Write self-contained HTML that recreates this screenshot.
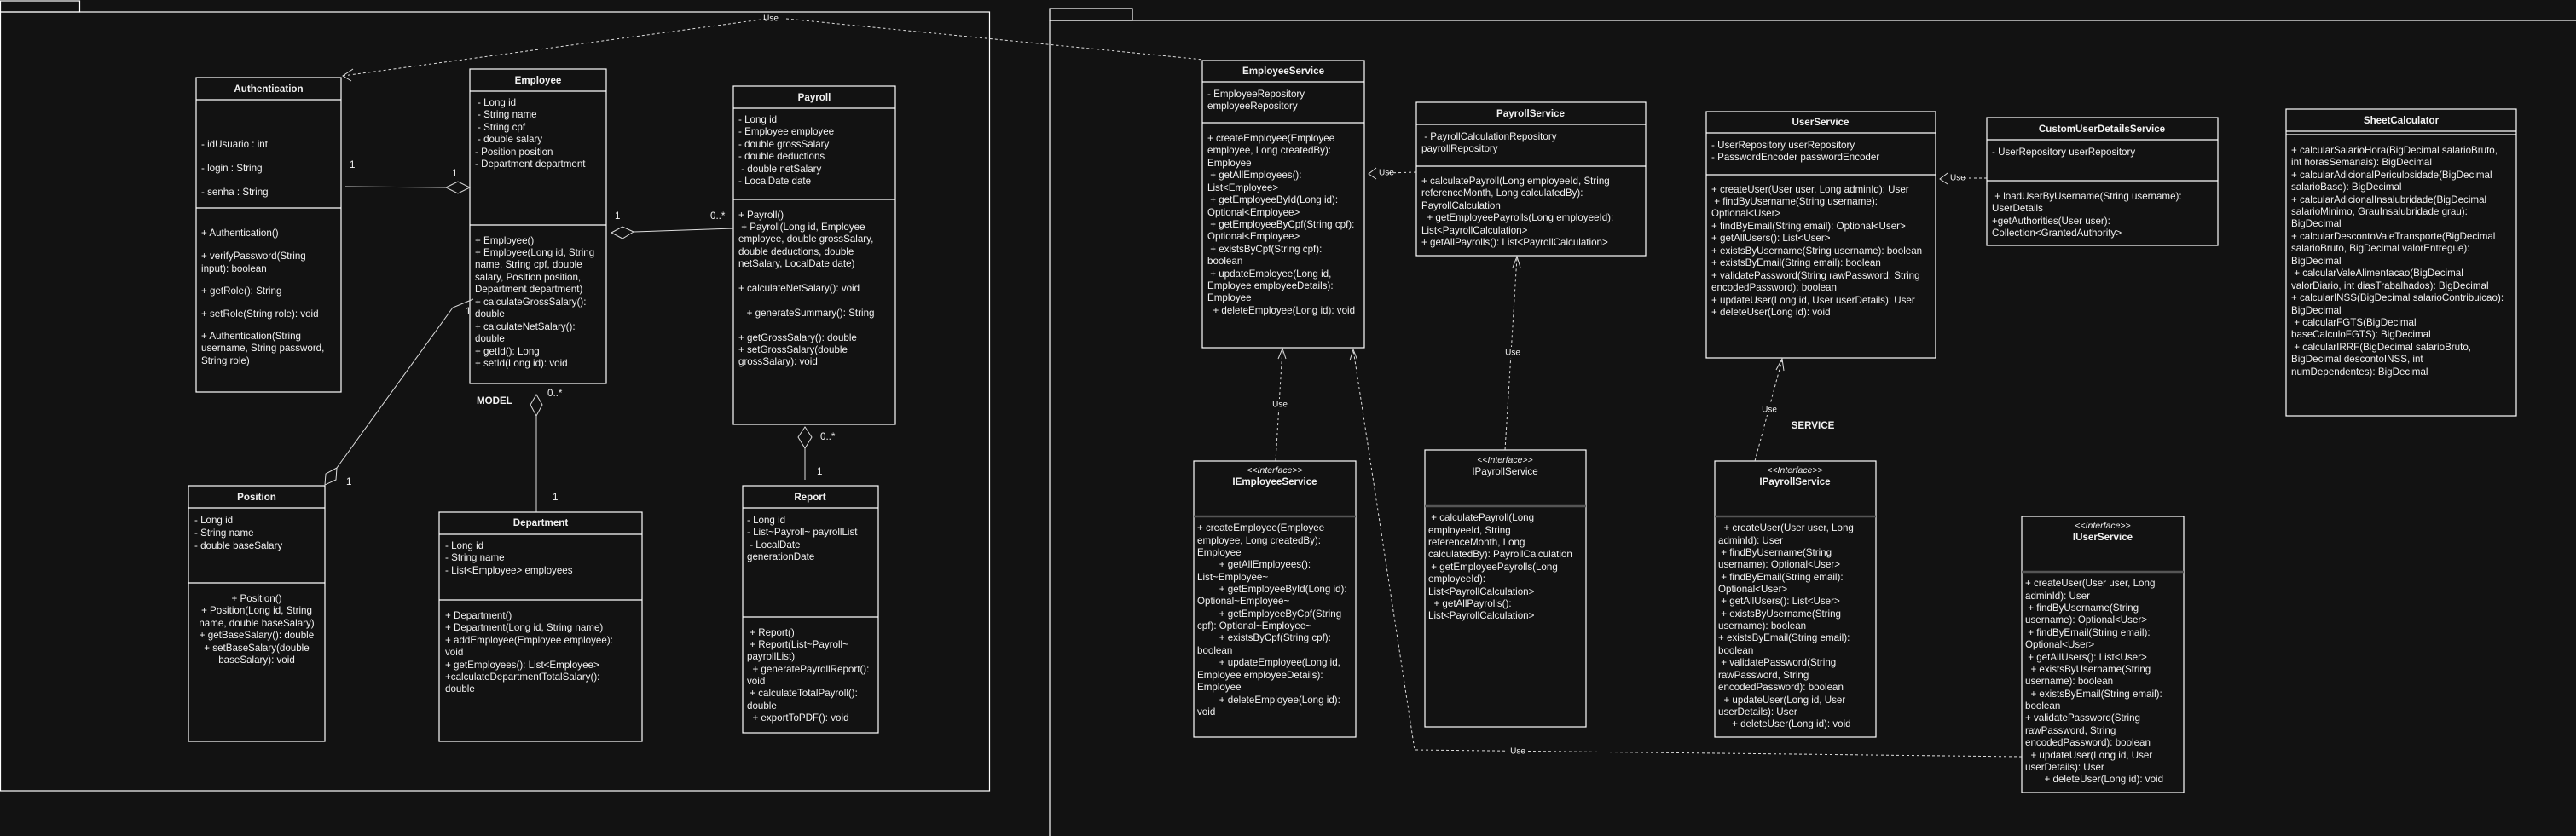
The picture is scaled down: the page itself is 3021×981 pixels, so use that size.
<!DOCTYPE html>
<html><head><meta charset="utf-8"><style>
html,body{margin:0;padding:0;background:#121212;}
svg{display:block;}
text{font-family:"Liberation Sans",Arial,sans-serif;font-size:11.6px;fill:#f2f2f2;dominant-baseline:middle;white-space:pre;}
.b{font-weight:bold;}
.c{text-anchor:middle;}
.i{font-style:italic;}
rect{fill:none;stroke:#fff;stroke-width:1.2;}
.s{stroke:#fff;stroke-width:1.2;}
.g{stroke:#555;stroke-width:2.5;}
.d{stroke:#ddd;stroke-width:1;stroke-dasharray:3 3;fill:none;}
.a{stroke:#ddd;stroke-width:1;fill:none;}
</style></head><body>
<svg width="3021" height="981" xmlns="http://www.w3.org/2000/svg" xml:space="preserve">
<rect x="0.5" y="1" width="93" height="13"/>
<rect x="0.5" y="14" width="1160" height="914"/>
<rect x="1231" y="10" width="97" height="14"/>
<rect x="1231" y="24" width="1800" height="970"/>

<polyline class="d" points="402,89 900,22"/>
<polyline class="d" points="922,22 1411,70"/>
<text x="904" y="22" class="c" style="font-size:10px">Use</text>
<polyline class="a" points="414,81 402,89 412,95"/>

<rect x="230" y="91" width="170" height="369"/>
<line class="s" x1="230" y1="117" x2="400" y2="117"/><line class="s" x1="230" y1="244" x2="400" y2="244"/>
<text x="315" y="105" class="b c">Authentication</text>
<text x="236" y="170">- idUsuario : int</text>
<text x="236" y="198">- login : String</text>
<text x="236" y="226">- senha : String</text>
<text x="236" y="274">+ Authentication()</text>
<text x="236" y="301">+ verifyPassword(String</text>
<text x="236" y="316">input): boolean</text>
<text x="236" y="342">+ getRole(): String</text>
<text x="236" y="369">+ setRole(String role): void</text>
<text x="236" y="395">+ Authentication(String</text>
<text x="236" y="409">username, String password,</text>
<text x="236" y="424">String role)</text>

<rect x="551" y="81" width="160" height="369"/>
<line class="s" x1="551" y1="107" x2="711" y2="107"/><line class="s" x1="551" y1="264" x2="711" y2="264"/>
<text x="631" y="95" class="b c">Employee</text>
<text x="560" y="121">- Long id</text>
<text x="560" y="135">- String name</text>
<text x="560" y="150">- String cpf</text>
<text x="560" y="164">- double salary</text>
<text x="557" y="179">- Position position</text>
<text x="557" y="193">- Department department</text>
<text x="557" y="283">+ Employee()</text>
<text x="557" y="297">+ Employee(Long id, String</text>
<text x="557" y="311">name, String cpf, double</text>
<text x="557" y="326">salary, Position position,</text>
<text x="557" y="340">Department department)</text>
<text x="557" y="355">+ calculateGrossSalary():</text>
<text x="557" y="369">double</text>
<text x="557" y="384">+ calculateNetSalary():</text>
<text x="557" y="398">double</text>
<text x="557" y="413">+ getId(): Long</text>
<text x="557" y="427">+ setId(Long id): void</text>

<rect x="860" y="101" width="190" height="397"/>
<line class="s" x1="860" y1="127" x2="1050" y2="127"/><line class="s" x1="860" y1="234" x2="1050" y2="234"/>
<text x="955" y="115" class="b c">Payroll</text>
<text x="866" y="141">- Long id</text>
<text x="866" y="155">- Employee employee</text>
<text x="866" y="170">- double grossSalary</text>
<text x="866" y="184">- double deductions</text>
<text x="866" y="199"> - double netSalary</text>
<text x="866" y="213">- LocalDate date</text>
<text x="866" y="253">+ Payroll()</text>
<text x="866" y="267"> + Payroll(Long id, Employee</text>
<text x="866" y="281">employee, double grossSalary,</text>
<text x="866" y="296">double deductions, double</text>
<text x="866" y="310">netSalary, LocalDate date)</text>
<text x="866" y="339">+ calculateNetSalary(): void</text>
<text x="866" y="368">   + generateSummary(): String</text>
<text x="866" y="397">+ getGrossSalary(): double</text>
<text x="866" y="411">+ setGrossSalary(double</text>
<text x="866" y="425">grossSalary): void</text>

<rect x="221" y="570" width="160" height="300"/>
<line class="s" x1="221" y1="596" x2="381" y2="596"/><line class="s" x1="221" y1="684" x2="381" y2="684"/>
<text x="301" y="584" class="b c">Position</text>
<text x="228" y="611">- Long id</text>
<text x="228" y="626">- String name</text>
<text x="228" y="641">- double baseSalary</text>
<text x="301" y="703" class="c">+ Position()</text>
<text x="301" y="717" class="c">+ Position(Long id, String</text>
<text x="301" y="732" class="c">name, double baseSalary)</text>
<text x="301" y="746" class="c">+ getBaseSalary(): double</text>
<text x="301" y="761" class="c">+ setBaseSalary(double</text>
<text x="301" y="775" class="c">baseSalary): void</text>

<rect x="515" y="601" width="238" height="269"/>
<line class="s" x1="515" y1="627" x2="753" y2="627"/><line class="s" x1="515" y1="704" x2="753" y2="704"/>
<text x="634" y="614" class="b c">Department</text>
<text x="522" y="641">- Long id</text>
<text x="522" y="655">- String name</text>
<text x="522" y="670">- List&lt;Employee&gt; employees</text>
<text x="522" y="723">+ Department()</text>
<text x="522" y="737">+ Department(Long id, String name)</text>
<text x="522" y="752">+ addEmployee(Employee employee):</text>
<text x="522" y="766">void</text>
<text x="522" y="781">+ getEmployees(): List&lt;Employee&gt;</text>
<text x="522" y="795">+calculateDepartmentTotalSalary():</text>
<text x="522" y="809">double</text>

<rect x="871" y="570" width="159" height="290"/>
<line class="s" x1="871" y1="596" x2="1030" y2="596"/><line class="s" x1="871" y1="724" x2="1030" y2="724"/>
<text x="950" y="584" class="b c">Report</text>
<text x="876" y="611">- Long id</text>
<text x="876" y="625">- List~Payroll~ payrollList</text>
<text x="876" y="640"> - LocalDate</text>
<text x="876" y="654">generationDate</text>
<text x="876" y="743"> + Report()</text>
<text x="876" y="757"> + Report(List~Payroll~</text>
<text x="876" y="771">payrollList)</text>
<text x="876" y="786">  + generatePayrollReport():</text>
<text x="876" y="800">void</text>
<text x="876" y="814"> + calculateTotalPayroll():</text>
<text x="876" y="829">double</text>
<text x="876" y="843">  + exportToPDF(): void</text>

<line class="a" x1="405" y1="219" x2="523" y2="220"/>
<polygon class="a" points="523,220 537,213 551,220 537,227"/>
<text x="410" y="194">1</text><text x="530" y="204">1</text>

<line class="a" x1="743" y1="272" x2="860" y2="268"/>
<polygon class="a" points="717,273 730,266 743,272 730,280"/>
<text x="721" y="254">1</text><text x="833" y="254">0..*</text>

<polyline class="a" points="555,351 531,361 395,549"/>
<polygon class="a" points="395,549 394,563 381,569 382,556"/>
<text x="546" y="366">1</text><text x="406" y="566">1</text>

<line class="a" x1="629" y1="601" x2="629" y2="488"/>
<polygon class="a" points="629,463 636,475 629,488 622,475"/>
<text x="642" y="462">0..*</text><text x="648" y="584">1</text>
<text x="559" y="471" class="b">MODEL</text>

<line class="a" x1="944" y1="526" x2="944" y2="563"/>
<polygon class="a" points="944,501 952,513 944,526 936,513"/>
<text x="962" y="513">0..*</text><text x="958" y="554">1</text>

<rect x="1410" y="71" width="190" height="337"/>
<line class="s" x1="1410" y1="96" x2="1600" y2="96"/><line class="s" x1="1410" y1="144" x2="1600" y2="144"/>
<text x="1505" y="84" class="b c">EmployeeService</text>
<text x="1416" y="111">- EmployeeRepository</text>
<text x="1416" y="125">employeeRepository</text>
<text x="1416" y="163">+ createEmployee(Employee</text>
<text x="1416" y="177">employee, Long createdBy):</text>
<text x="1416" y="192">Employee</text>
<text x="1416" y="206"> + getAllEmployees():</text>
<text x="1416" y="221">List&lt;Employee&gt;</text>
<text x="1416" y="235"> + getEmployeeById(Long id):</text>
<text x="1416" y="250">Optional&lt;Employee&gt;</text>
<text x="1416" y="264"> + getEmployeeByCpf(String cpf):</text>
<text x="1416" y="278">Optional&lt;Employee&gt;</text>
<text x="1416" y="293"> + existsByCpf(String cpf):</text>
<text x="1416" y="307">boolean</text>
<text x="1416" y="322"> + updateEmployee(Long id,</text>
<text x="1416" y="336">Employee employeeDetails):</text>
<text x="1416" y="350">Employee</text>
<text x="1416" y="365">  + deleteEmployee(Long id): void</text>

<rect x="1661" y="120" width="269" height="180"/>
<line class="s" x1="1661" y1="146" x2="1930" y2="146"/><line class="s" x1="1661" y1="195" x2="1930" y2="195"/>
<text x="1795" y="134" class="b c">PayrollService</text>
<text x="1667" y="161"> - PayrollCalculationRepository</text>
<text x="1667" y="175">payrollRepository</text>
<text x="1667" y="213">+ calculatePayroll(Long employeeId, String</text>
<text x="1667" y="227">referenceMonth, Long calculatedBy):</text>
<text x="1667" y="242">PayrollCalculation</text>
<text x="1667" y="256">  + getEmployeePayrolls(Long employeeId):</text>
<text x="1667" y="271">List&lt;PayrollCalculation&gt;</text>
<text x="1667" y="285">+ getAllPayrolls(): List&lt;PayrollCalculation&gt;</text>

<rect x="2001" y="131" width="269" height="289"/>
<line class="s" x1="2001" y1="156" x2="2270" y2="156"/><line class="s" x1="2001" y1="205" x2="2270" y2="205"/>
<text x="2135" y="144" class="b c">UserService</text>
<text x="2007" y="171">- UserRepository userRepository</text>
<text x="2007" y="185">- PasswordEncoder passwordEncoder</text>
<text x="2007" y="223">+ createUser(User user, Long adminId): User</text>
<text x="2007" y="237"> + findByUsername(String username):</text>
<text x="2007" y="251">Optional&lt;User&gt;</text>
<text x="2007" y="266">+ findByEmail(String email): Optional&lt;User&gt;</text>
<text x="2007" y="280">+ getAllUsers(): List&lt;User&gt;</text>
<text x="2007" y="295">+ existsByUsername(String username): boolean</text>
<text x="2007" y="309">+ existsByEmail(String email): boolean</text>
<text x="2007" y="324">+ validatePassword(String rawPassword, String</text>
<text x="2007" y="338">encodedPassword): boolean</text>
<text x="2007" y="353">+ updateUser(Long id, User userDetails): User</text>
<text x="2007" y="367">+ deleteUser(Long id): void</text>

<rect x="2330" y="138" width="271" height="150"/>
<line class="s" x1="2330" y1="164" x2="2601" y2="164"/><line class="s" x1="2330" y1="212" x2="2601" y2="212"/>
<text x="2465" y="152" class="b c">CustomUserDetailsService</text>
<text x="2336" y="179">- UserRepository userRepository</text>
<text x="2336" y="231"> + loadUserByUsername(String username):</text>
<text x="2336" y="245">UserDetails</text>
<text x="2336" y="260">+getAuthorities(User user):</text>
<text x="2336" y="274">Collection&lt;GrantedAuthority&gt;</text>

<rect x="2681" y="128" width="270" height="360"/>
<line class="s" x1="2681" y1="154" x2="2951" y2="154"/><line class="s" x1="2681" y1="158" x2="2951" y2="158"/>
<text x="2816" y="142" class="b c">SheetCalculator</text>
<text x="2687" y="177">+ calcularSalarioHora(BigDecimal salarioBruto,</text>
<text x="2687" y="191">int horasSemanais): BigDecimal</text>
<text x="2687" y="206">+ calcularAdicionalPericulosidade(BigDecimal</text>
<text x="2687" y="220">salarioBase): BigDecimal</text>
<text x="2687" y="235">+ calcularAdicionalInsalubridade(BigDecimal</text>
<text x="2687" y="249">salarioMinimo, GrauInsalubridade grau):</text>
<text x="2687" y="263">BigDecimal</text>
<text x="2687" y="278">+ calcularDescontoValeTransporte(BigDecimal</text>
<text x="2687" y="292">salarioBruto, BigDecimal valorEntregue):</text>
<text x="2687" y="307">BigDecimal</text>
<text x="2687" y="321"> + calcularValeAlimentacao(BigDecimal</text>
<text x="2687" y="336">valorDiario, int diasTrabalhados): BigDecimal</text>
<text x="2687" y="350">+ calcularINSS(BigDecimal salarioContribuicao):</text>
<text x="2687" y="365">BigDecimal</text>
<text x="2687" y="379"> + calcularFGTS(BigDecimal</text>
<text x="2687" y="393">baseCalculoFGTS): BigDecimal</text>
<text x="2687" y="408"> + calcularIRRF(BigDecimal salarioBruto,</text>
<text x="2687" y="422">BigDecimal descontoINSS, int</text>
<text x="2687" y="437">numDependentes): BigDecimal</text>

<rect x="1400" y="541" width="190" height="324"/>
<line class="g" x1="1400" y1="606" x2="1590" y2="606"/>
<text x="1495" y="552" class="i c" style="font-size:10.5px">&lt;&lt;Interface&gt;&gt;</text>
<text x="1495" y="566" class="b c">IEmployeeService</text>
<text x="1404" y="620">+ createEmployee(Employee</text>
<text x="1404" y="635">employee, Long createdBy):</text>
<text x="1404" y="649">Employee</text>
<text x="1404" y="663">        + getAllEmployees():</text>
<text x="1404" y="678">List~Employee~</text>
<text x="1404" y="692">        + getEmployeeById(Long id):</text>
<text x="1404" y="706">Optional~Employee~</text>
<text x="1404" y="721">        + getEmployeeByCpf(String</text>
<text x="1404" y="735">cpf): Optional~Employee~</text>
<text x="1404" y="749">        + existsByCpf(String cpf):</text>
<text x="1404" y="764">boolean</text>
<text x="1404" y="778">        + updateEmployee(Long id,</text>
<text x="1404" y="793">Employee employeeDetails):</text>
<text x="1404" y="807">Employee</text>
<text x="1404" y="822">        + deleteEmployee(Long id):</text>
<text x="1404" y="836">void</text>

<rect x="1671" y="528" width="189" height="325"/>
<line class="g" x1="1671" y1="594" x2="1860" y2="594"/>
<text x="1765" y="540" class="i c" style="font-size:10.5px">&lt;&lt;Interface&gt;&gt;</text>
<text x="1765" y="554" class="c">IPayrollService</text>
<text x="1675" y="608"> + calculatePayroll(Long</text>
<text x="1675" y="623">employeeId, String</text>
<text x="1675" y="637">referenceMonth, Long</text>
<text x="1675" y="651">calculatedBy): PayrollCalculation</text>
<text x="1675" y="666"> + getEmployeePayrolls(Long</text>
<text x="1675" y="680">employeeId):</text>
<text x="1675" y="695">List&lt;PayrollCalculation&gt;</text>
<text x="1675" y="709">  + getAllPayrolls():</text>
<text x="1675" y="723">List&lt;PayrollCalculation&gt;</text>

<rect x="2011" y="541" width="189" height="324"/>
<line class="g" x1="2011" y1="606" x2="2200" y2="606"/>
<text x="2105" y="552" class="i c" style="font-size:10.5px">&lt;&lt;Interface&gt;&gt;</text>
<text x="2105" y="566" class="b c">IPayrollService</text>
<text x="2015" y="620">  + createUser(User user, Long</text>
<text x="2015" y="635">adminId): User</text>
<text x="2015" y="649"> + findByUsername(String</text>
<text x="2015" y="663">username): Optional&lt;User&gt;</text>
<text x="2015" y="678"> + findByEmail(String email):</text>
<text x="2015" y="692">Optional&lt;User&gt;</text>
<text x="2015" y="706"> + getAllUsers(): List&lt;User&gt;</text>
<text x="2015" y="721"> + existsByUsername(String</text>
<text x="2015" y="735">username): boolean</text>
<text x="2015" y="749">+ existsByEmail(String email):</text>
<text x="2015" y="764">boolean</text>
<text x="2015" y="778"> + validatePassword(String</text>
<text x="2015" y="793">rawPassword, String</text>
<text x="2015" y="807">encodedPassword): boolean</text>
<text x="2015" y="822">  + updateUser(Long id, User</text>
<text x="2015" y="836">userDetails): User</text>
<text x="2015" y="850">     + deleteUser(Long id): void</text>

<rect x="2371" y="606" width="190" height="324"/>
<line class="g" x1="2371" y1="671" x2="2561" y2="671"/>
<text x="2466" y="617" class="i c" style="font-size:10.5px">&lt;&lt;Interface&gt;&gt;</text>
<text x="2466" y="631" class="b c">IUserService</text>
<text x="2375" y="685">+ createUser(User user, Long</text>
<text x="2375" y="700">adminId): User</text>
<text x="2375" y="714"> + findByUsername(String</text>
<text x="2375" y="728">username): Optional&lt;User&gt;</text>
<text x="2375" y="743"> + findByEmail(String email):</text>
<text x="2375" y="757">Optional&lt;User&gt;</text>
<text x="2375" y="772"> + getAllUsers(): List&lt;User&gt;</text>
<text x="2375" y="786">  + existsByUsername(String</text>
<text x="2375" y="800">username): boolean</text>
<text x="2375" y="815">  + existsByEmail(String email):</text>
<text x="2375" y="829">boolean</text>
<text x="2375" y="843">+ validatePassword(String</text>
<text x="2375" y="858">rawPassword, String</text>
<text x="2375" y="872">encodedPassword): boolean</text>
<text x="2375" y="887">  + updateUser(Long id, User</text>
<text x="2375" y="901">userDetails): User</text>
<text x="2375" y="915">       + deleteUser(Long id): void</text>

<line class="d" x1="1661" y1="202" x2="1625" y2="203"/>
<polyline class="a" points="1614,197 1605,204 1614,210"/>
<text x="1617" y="203" style="font-size:10px">Use</text>

<line class="d" x1="2330" y1="209" x2="2302" y2="209"/>
<polyline class="a" points="2284,203 2275,210 2284,216"/>
<text x="2287" y="209" style="font-size:10px">Use</text>

<line class="d" x1="1496" y1="541" x2="1504" y2="410"/>
<polyline class="a" points="1499,421 1504,409 1508,421"/>
<rect x="1490" y="468" width="22" height="13" style="fill:#121212;stroke:none"/>
<text x="1501" y="475" class="c" style="font-size:10px">Use</text>

<polyline class="d" points="2371,888 1659,880 1587,410"/>
<polyline class="a" points="1583,423 1587,410 1592,423"/>
<rect x="1769" y="875" width="22" height="13" style="fill:#121212;stroke:none"/>
<text x="1780" y="882" class="c" style="font-size:10px">Use</text>

<line class="d" x1="1765" y1="528" x2="1779" y2="302"/>
<polyline class="a" points="1774,314 1779,301 1783,314"/>
<rect x="1763" y="407" width="22" height="13" style="fill:#121212;stroke:none"/>
<text x="1774" y="414" class="c" style="font-size:10px">Use</text>

<line class="d" x1="2058" y1="541" x2="2090" y2="422"/>
<polyline class="a" points="2083,434 2090,421 2092,435"/>
<rect x="2064" y="474" width="22" height="13" style="fill:#121212;stroke:none"/>
<text x="2075" y="481" class="c" style="font-size:10px">Use</text>
<text x="2126" y="500" class="b c">SERVICE</text>
</svg>
</body></html>
